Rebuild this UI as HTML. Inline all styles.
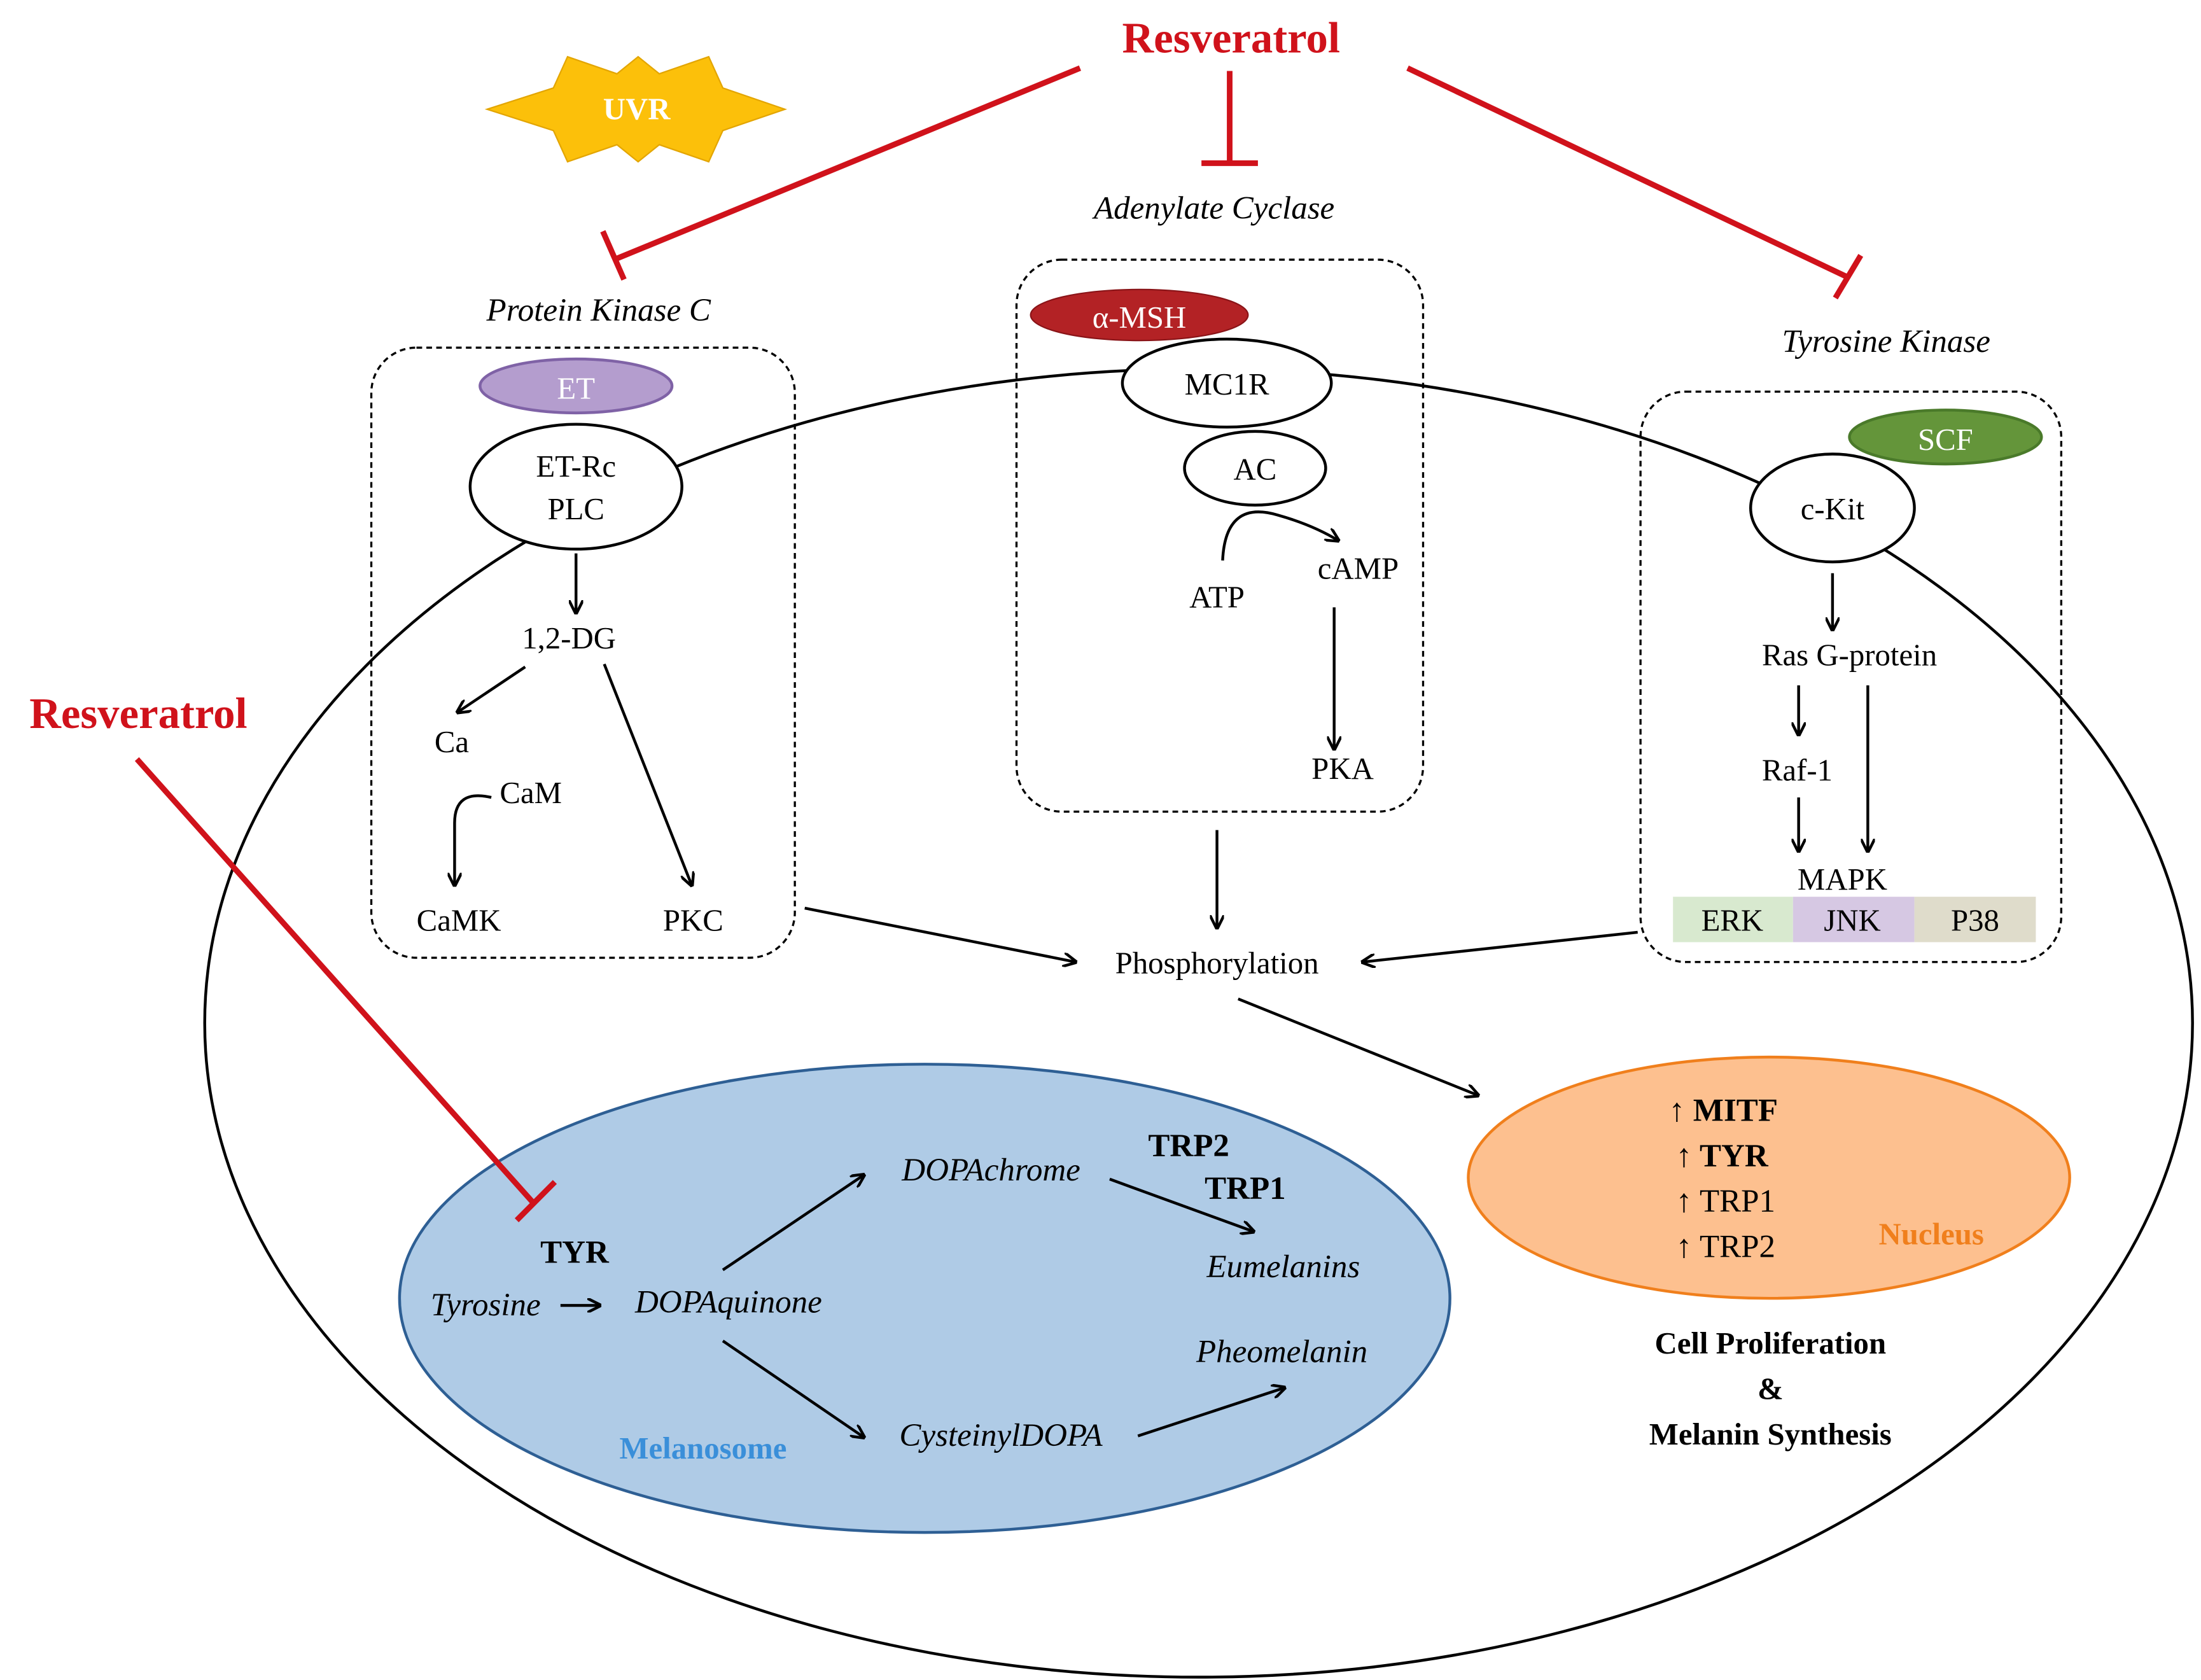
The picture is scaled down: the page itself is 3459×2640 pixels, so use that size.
<!DOCTYPE html>
<html><head><meta charset="utf-8"><style>html,body{margin:0;padding:0;background:#fff}svg{display:block}svg text{font-family:"Liberation Serif","DejaVu Serif",serif}</style></head>
<body>
<svg width="3459" height="2640" viewBox="0 0 1559 1184" preserveAspectRatio="none" xmlns="http://www.w3.org/2000/svg">
<defs>
<marker id="a" markerWidth="10" markerHeight="10" refX="9" refY="5" orient="auto" markerUnits="userSpaceOnUse"><path d="M0,0 L10,5 L0,10" fill="none" stroke="#000" stroke-width="2"/></marker>
</defs>
<rect width="1559" height="1184" fill="#fff"/>
<ellipse cx="849" cy="721" rx="704" ry="461" fill="none" stroke="#000" stroke-width="2"/>
<rect x="263" y="245" width="300" height="430" rx="32" fill="none" stroke="#000" stroke-width="1.5" stroke-dasharray="4,3"/>
<rect x="720" y="183" width="288" height="389" rx="32" fill="none" stroke="#000" stroke-width="1.5" stroke-dasharray="4,3"/>
<rect x="1162" y="276" width="298" height="402" rx="32" fill="none" stroke="#000" stroke-width="1.5" stroke-dasharray="4,3"/>
<text x="872" y="37" font-size="31" font-weight="bold" fill="#d0121b" text-anchor="middle">Resveratrol</text>
<g stroke="#d0121b" stroke-width="4" fill="none">
<line x1="765" y1="48" x2="435" y2="183"/><line x1="427" y1="163" x2="442" y2="197"/>
<line x1="871" y1="50" x2="871" y2="115"/><line x1="851" y1="115" x2="891" y2="115"/>
<line x1="997" y1="48" x2="1308" y2="195"/><line x1="1300" y1="210" x2="1318" y2="180"/>
</g>
<text x="98" y="513" font-size="31" font-weight="bold" fill="#d0121b" text-anchor="middle">Resveratrol</text>
<polygon points="345,77 392,62 402,40 437,52 452,40 467,52 502,40 512,62 556,77 512,92 502,114 467,102 452,114 437,102 402,114 392,92" fill="#fcc00a" stroke="#e3a500" stroke-width="1"/>
<text x="451" y="84" font-size="22" font-weight="bold" fill="#fff" text-anchor="middle">UVR</text>
<g font-style="italic" font-size="23" text-anchor="middle">
<text x="860" y="154">Adenylate Cyclase</text>
<text x="424" y="226">Protein Kinase C</text>
<text x="1336" y="248">Tyrosine Kinase</text>
</g>
<ellipse cx="408" cy="272" rx="68" ry="19" fill="#b49dce" stroke="#7f62a6" stroke-width="2"/>
<text x="408" y="281" font-size="22" fill="#fff" text-anchor="middle">ET</text>
<ellipse cx="408" cy="343" rx="75" ry="44" fill="#fff" stroke="#000" stroke-width="2"/>
<text x="408" y="336" font-size="22" text-anchor="middle">ET-Rc</text>
<text x="408" y="366" font-size="22" text-anchor="middle">PLC</text>
<g font-size="22" text-anchor="middle">
<text x="403" y="457">1,2-DG</text><text x="320" y="530">Ca</text><text x="376" y="566">CaM</text>
<text x="325" y="656">CaMK</text><text x="491" y="656">PKC</text>
</g>
<g stroke="#000" stroke-width="2" fill="none" marker-end="url(#a)">
<line x1="408" y1="390" x2="408" y2="432"/>
<line x1="372" y1="470" x2="324" y2="502"/>
<line x1="428" y1="468" x2="490" y2="624"/>
<path d="M348,562 Q322,556 322,580 L322,624"/>
</g>
<ellipse cx="807" cy="222" rx="77" ry="18" fill="#b32225" stroke="#8a1418" stroke-width="1"/>
<text x="807" y="231" font-size="22" fill="#fff" text-anchor="middle">α-MSH</text>
<ellipse cx="869" cy="270" rx="74" ry="31" fill="#fff" stroke="#000" stroke-width="2"/>
<text x="869" y="278" font-size="22" text-anchor="middle">MC1R</text>
<ellipse cx="889" cy="330" rx="50" ry="26" fill="#fff" stroke="#000" stroke-width="2"/>
<text x="889" y="338" font-size="22" text-anchor="middle">AC</text>
<g font-size="22" text-anchor="middle">
<text x="862" y="428">ATP</text><text x="962" y="408">cAMP</text><text x="951" y="549">PKA</text>
</g>
<g stroke="#000" stroke-width="2" fill="none" marker-end="url(#a)">
<path d="M866,395 Q868,352 905,363 Q930,370 948,381"/>
<line x1="945" y1="428" x2="945" y2="528"/>
<line x1="862" y1="585" x2="862" y2="654"/>
<line x1="570" y1="640" x2="762" y2="678"/>
<line x1="1160" y1="657" x2="965" y2="678"/>
<line x1="877" y1="704" x2="1047" y2="772"/>
</g>
<text x="862" y="686" font-size="22" text-anchor="middle">Phosphorylation</text>
<ellipse cx="1378" cy="308" rx="68" ry="19" fill="#64953a" stroke="#4a7a2a" stroke-width="2"/>
<text x="1378" y="317" font-size="22" fill="#fff" text-anchor="middle">SCF</text>
<ellipse cx="1298" cy="358" rx="58" ry="38" fill="#fff" stroke="#000" stroke-width="2"/>
<text x="1298" y="366" font-size="22" text-anchor="middle">c-Kit</text>
<g font-size="22" text-anchor="middle">
<text x="1310" y="469">Ras G-protein</text><text x="1273" y="550">Raf-1</text><text x="1305" y="627">MAPK</text>
</g>
<g stroke="#000" stroke-width="2" fill="none" marker-end="url(#a)">
<line x1="1298" y1="404" x2="1298" y2="444"/>
<line x1="1274" y1="483" x2="1274" y2="518"/>
<line x1="1323" y1="483" x2="1323" y2="600"/>
<line x1="1274" y1="562" x2="1274" y2="600"/>
</g>
<rect x="1185" y="632" width="85" height="32" fill="#d8e9cf"/>
<rect x="1270" y="632" width="86" height="32" fill="#d6c8e3"/>
<rect x="1356" y="632" width="86" height="32" fill="#dfdccb"/>
<g font-size="22" text-anchor="middle">
<text x="1227" y="656">ERK</text><text x="1312" y="656">JNK</text><text x="1399" y="656">P38</text>
</g>
<ellipse cx="655" cy="915" rx="372" ry="165" fill="#afcbe6" stroke="#2e5f94" stroke-width="2"/>
<g stroke="#d0121b" stroke-width="4" fill="none">
<line x1="97" y1="535" x2="378" y2="848"/><line x1="366" y1="860" x2="393" y2="833"/>
</g>
<g font-style="italic" font-size="23" text-anchor="middle">
<text x="344" y="927">Tyrosine</text><text x="516" y="925">DOPAquinone</text>
<text x="702" y="832">DOPAchrome</text><text x="909" y="900">Eumelanins</text>
<text x="908" y="960">Pheomelanin</text><text x="709" y="1019">CysteinylDOPA</text>
</g>
<g font-weight="bold" font-size="23" text-anchor="middle">
<text x="407" y="890">TYR</text><text x="842" y="815">TRP2</text><text x="882" y="845">TRP1</text>
</g>
<text x="498" y="1028" font-size="22" font-weight="bold" fill="#3a8fd9" text-anchor="middle">Melanosome</text>
<g stroke="#000" stroke-width="2" fill="none" marker-end="url(#a)">
<line x1="397" y1="920" x2="425" y2="920"/>
<line x1="512" y1="895" x2="612" y2="828"/>
<line x1="512" y1="945" x2="612" y2="1013"/>
<line x1="786" y1="831" x2="888" y2="868"/>
<line x1="806" y1="1012" x2="910" y2="978"/>
</g>
<ellipse cx="1253" cy="830" rx="213" ry="85" fill="#fdc08f" stroke="#f07f1c" stroke-width="2"/>
<g font-size="23" text-anchor="start">
<text x="1182" y="790" font-weight="bold">↑ MITF</text>
<text x="1187" y="822" font-weight="bold">↑ TYR</text>
<text x="1187" y="854">↑ TRP1</text>
<text x="1187" y="886">↑ TRP2</text>
</g>
<text x="1368" y="877" font-size="22" font-weight="bold" fill="#f07f1c" text-anchor="middle">Nucleus</text>
<g font-size="22" font-weight="bold" text-anchor="middle">
<text x="1254" y="954">Cell Proliferation</text>
<text x="1254" y="986">&amp;</text>
<text x="1254" y="1018">Melanin Synthesis</text>
</g>
</svg>
</body></html>
